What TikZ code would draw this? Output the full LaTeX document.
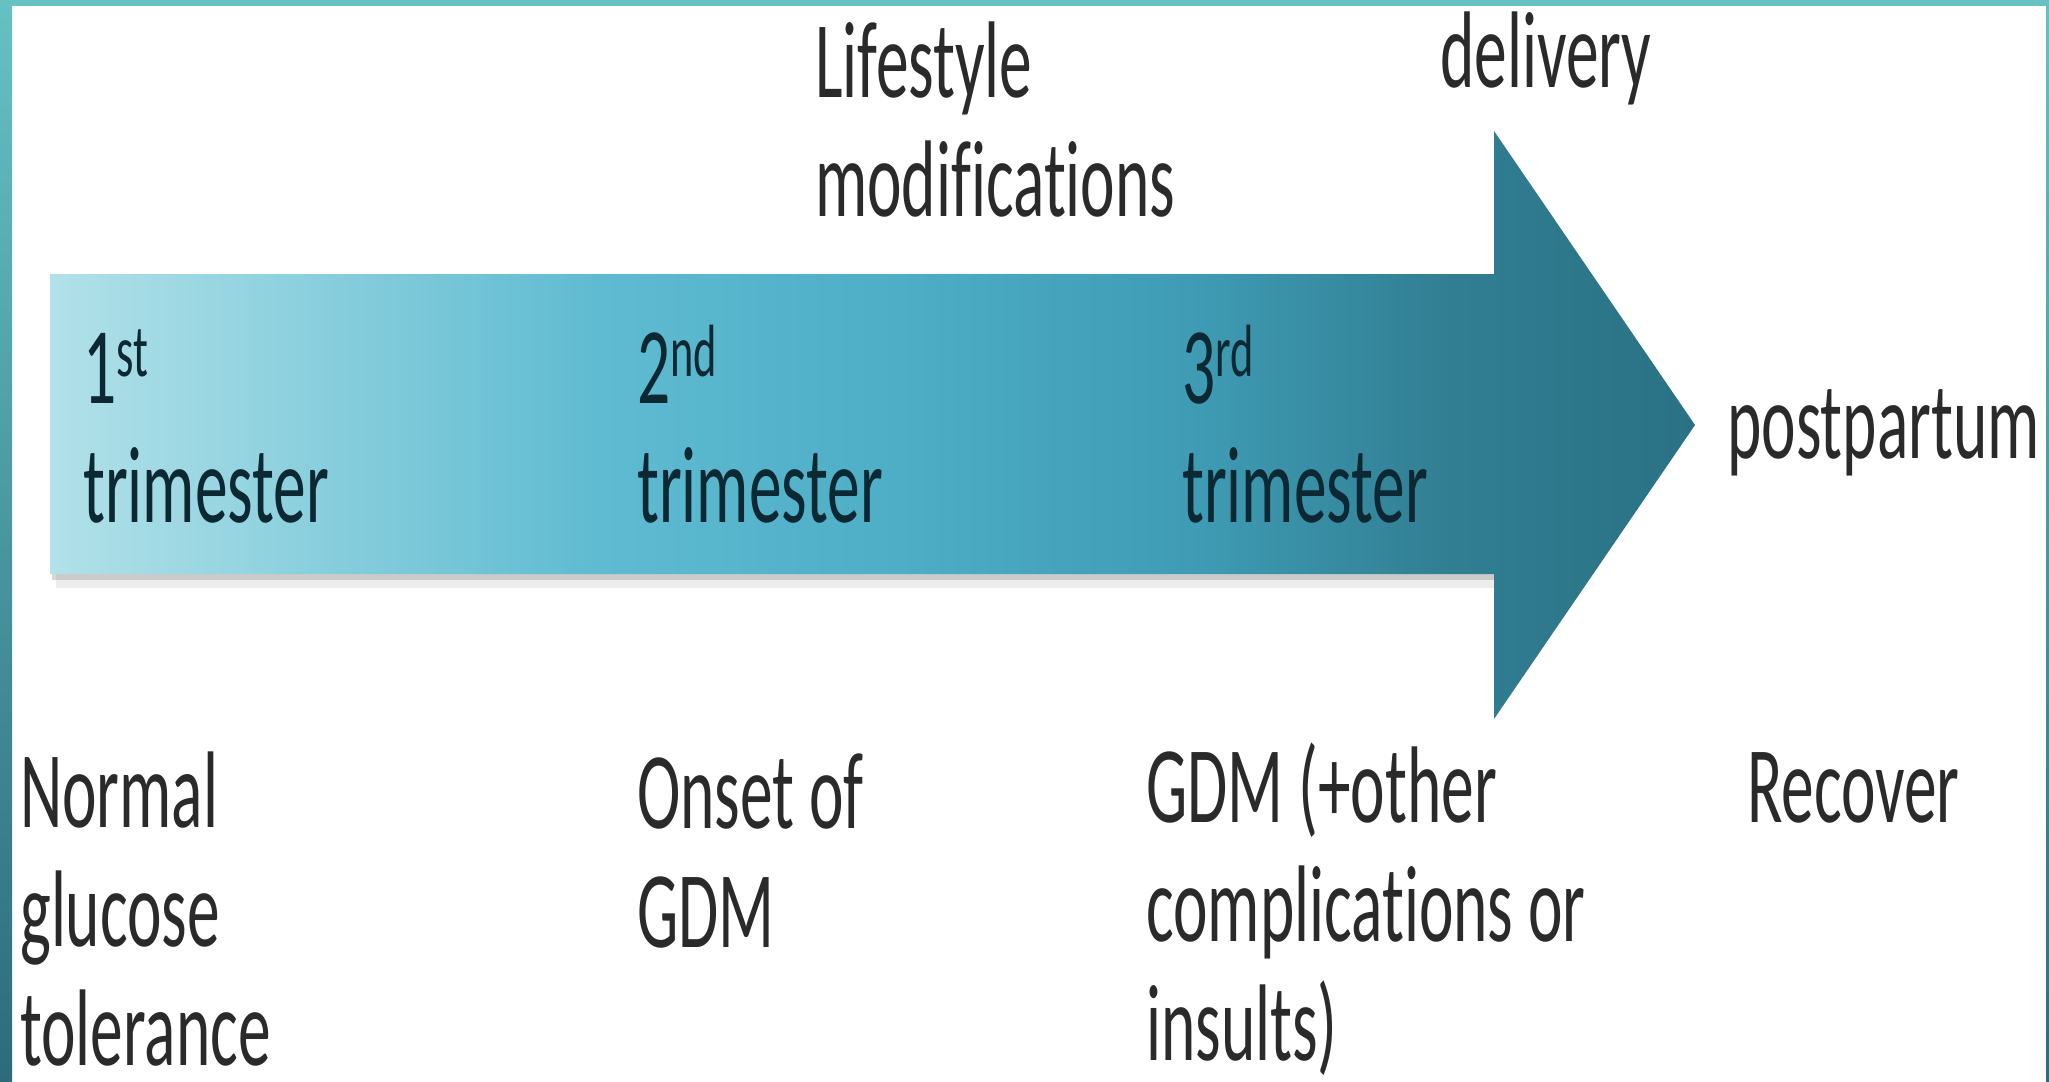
\documentclass[tikz,border=0pt]{standalone}
\usepackage{fontspec}
\setmainfont{Carlito}[FakeStretch=0.6, Ligatures=NoCommon]
\definecolor{frametop}{HTML}{66C1C3}
\definecolor{framebot}{HTML}{2D6B7C}
\definecolor{outtext}{HTML}{2A2A2A}
\definecolor{intext}{HTML}{0C2832}
\definecolor{tl1}{HTML}{B2E1E9}
\definecolor{tl2}{HTML}{8CD0DE}
\definecolor{tl3}{HTML}{5FBBD1}
\definecolor{tl4}{HTML}{4DAEC6}
\definecolor{tl5}{HTML}{3E9BB3}
\definecolor{tl6}{HTML}{317E92}
\definecolor{tl7}{HTML}{2A7185}
\pgfdeclarehorizontalshading{timeline}{100bp}{color(0bp)=(tl1); color(25bp)=(tl1); color(32.6bp)=(tl2); color(41.7bp)=(tl3); color(50.8bp)=(tl4); color(60bp)=(tl5); color(67.6bp)=(tl6); color(75bp)=(tl7); color(100bp)=(tl7)}
\newcommand{\twoline}[2]{\vtop{\hbox{#1}\hbox{#2}}}
\newcommand{\threeline}[3]{\vtop{\hbox{#1}\hbox{#2}\hbox{#3}}}
\newcommand{\ordsup}[1]{\raisebox{27pt}{\fontsize{74}{74}\selectfont #1}}
\tikzset{
	txt/.style={anchor=base west, inner sep=0pt, font=\fontsize{109}{119}\selectfont},
	outside/.style={txt, text=outtext},
	inside/.style={txt, text=intext},
}

\begin{document}
\begin{tikzpicture}[x=1pt, y=-1pt]
		\useasboundingbox (0,0) rectangle (2049,1081);
		% frame
		\fill[white] (0,0) rectangle (2049,1081);
		\shade[top color=frametop, bottom color=framebot] (0,0) rectangle (12,1081);
		\shade[top color=frametop, bottom color=framebot] (2046,0) rectangle (2049,1081);
		\fill[frametop] (0,0) rectangle (2049,6);
		% shadow and arrow
		\fill[gray, opacity=0.15] (56,284) rectangle (1494,588);
		\fill[gray, opacity=0.3] (52,278) rectangle (1494,580);
		\shade[shading=timeline] (50,274) -- (1494,274) -- (1494,131) -- (1695,425)
			-- (1494,719) -- (1494,574) -- (50,574) -- cycle;
		% labels
		\node (lifestyle)[outside] at (815,97) {\twoline{Lifestyle}{modifications}};
		\node (delivery)[outside] at (1440,88) {delivery};
		\node (first)[inside] at (83,403) {\twoline{1\ordsup{st}}{trimester}};
		\node (second)[inside] at (637,403) {\twoline{2\ordsup{nd}}{trimester}};
		\node (third)[inside] at (1182,403) {\twoline{3\ordsup{rd}}{trimester}};
		\node (postpartum)[outside] at (1727,458) {postpartum};
		\node (normal)[outside] at (20,827) {\threeline{Normal}{glucose}{tolerance}};
		\node (onset)[outside] at (637,828) {\twoline{Onset of}{GDM}};
		\node (gdm)[outside] at (1146,822) {\threeline{GDM (+other}{complications or}{insults)}};
		\node (recover)[outside] at (1747,822) {Recover};
	\end{tikzpicture}
\end{document}
